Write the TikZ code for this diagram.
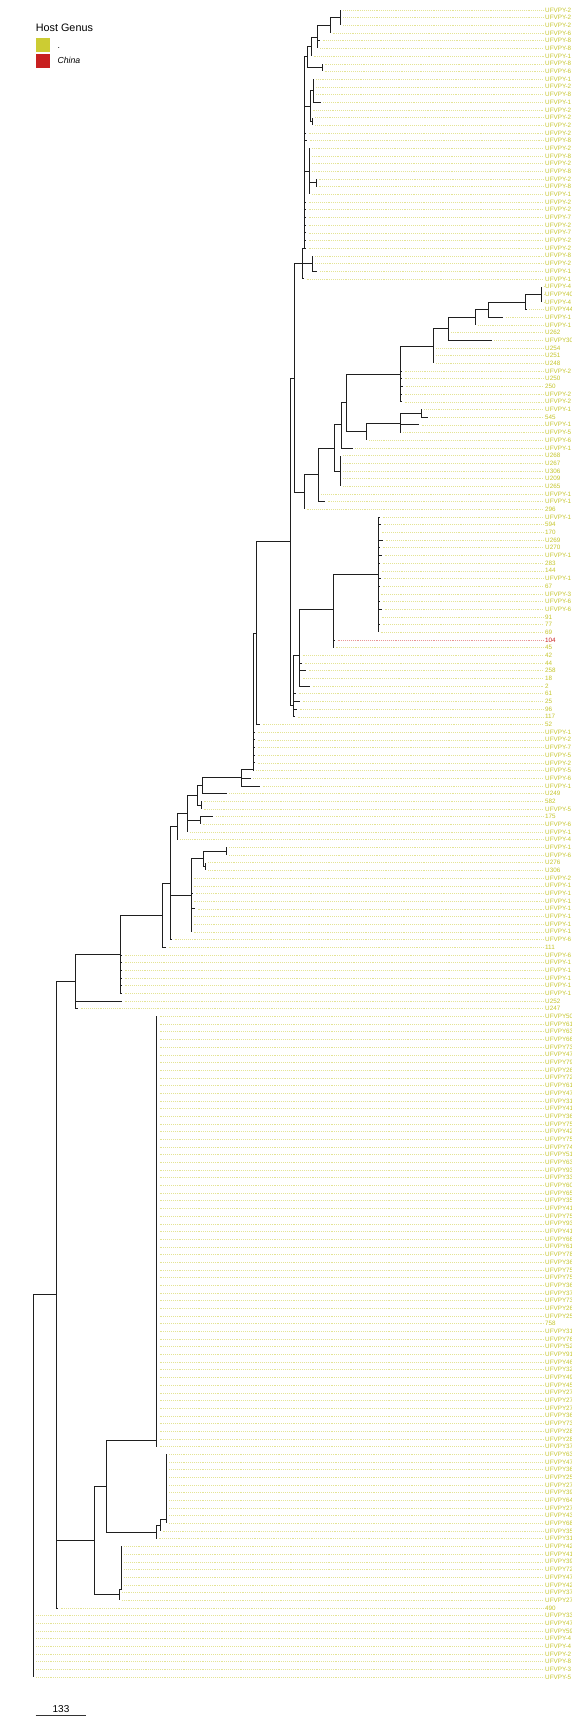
\documentclass[tikz,border=0pt]{standalone}
\usepackage{fontspec}
\setmainfont{Liberation Sans}
\newfontfamily\lblfont{Liberation Sans}
\definecolor{hy}{RGB}{204,204,51}
\definecolor{hyt}{RGB}{196,196,40}
\definecolor{hyl}{RGB}{228,228,150}
\definecolor{hr}{RGB}{200,32,32}
\definecolor{hrl}{RGB}{232,150,150}
\pgfmathdeclarefunction{ly}{1}{\pgfmathparse{10+7.682*#1}}
\newcommand\tnode[3]{\coordinate (#1) at (#2,{ly(#3)});}
\newcommand\tclade[2]{\foreach \ch in {#2}{\draw[br] (#1) |- (\ch);}}
\newcommand\tcladr[3]{\foreach \ch in {#2,...,#3}{\draw[br] (#1) |- (T\ch);}}
\begin{document}
\begin{tikzpicture}[x=1pt,y=-1pt,
  br/.style={line width=0.75pt, black!88},
  lead/.style={hyl, line width=0.5pt, dash pattern=on 0.7pt off 1.2pt},
  lbl/.style={anchor=west, inner sep=0pt, text=hyt, font=\lblfont\fontsize{6.3}{7}\selectfont},
  lblc82/.style={text=hr},
  leadc82/.style={hrl}]
\useasboundingbox (0,0) rectangle (576,1728);
% ---------- leaves ----------
\begin{scope}
\clip (0,0) rectangle (571,1728);
\foreach \i/\t/\l in {
0/340.7/UFVPY-2, 1/340.7/UFVPY-2, 2/340.7/UFVPY-2, 3/330/UFVPY-6, 4/320/UFVPY-8,
5/317.3/UFVPY-8, 6/311/UFVPY-1, 7/322/UFVPY-8, 8/322/UFVPY-6, 9/313.3/UFVPY-1,
10/313.3/UFVPY-2, 11/313.3/UFVPY-8, 12/320.7/UFVPY-1, 13/310/UFVPY-2, 14/312.7/UFVPY-2,
15/312.7/UFVPY-2, 16/306/UFVPY-2, 17/307/UFVPY-8, 18/309.3/UFVPY-2, 19/309.3/UFVPY-8,
20/309.3/UFVPY-2, 21/309.3/UFVPY-8, 22/316/UFVPY-2, 23/316/UFVPY-8, 24/309.3/UFVPY-1,
25/306/UFVPY-2, 26/306/UFVPY-2, 27/306/UFVPY-7, 28/306/UFVPY-2, 29/306/UFVPY-7,
30/306/UFVPY-2, 31/306/UFVPY-2, 32/312.7/UFVPY-8, 33/312.7/UFVPY-2, 34/317.3/UFVPY-1,
35/304/UFVPY-1, 36/541.7/UFVPY-4, 37/541.7/UFVPY40, 38/541.7/UFVPY-4, 39/526.7/UFVPY44,
40/503.3/UFVPY-1, 41/475.7/UFVPY-1, 42/448.3/U262, 43/491.7/UFVPY30, 44/433.7/U254,
45/433.7/U251, 46/433.7/U248, 47/402/UFVPY-2, 48/402/U250, 49/403/250,
50/402/UFVPY-2, 51/402/UFVPY-2, 52/421.7/UFVPY-1, 53/427.7/545, 54/419/UFVPY-1,
55/400.3/UFVPY-5, 56/366.7/UFVPY-6, 57/352.7/UFVPY-1, 58/340.3/U268, 59/340.3/U267,
60/340.3/U306, 61/340.3/U209, 62/340.3/U265, 63/318.7/UFVPY-1, 64/325/UFVPY-1,
65/304/296, 66/380/UFVPY-1, 67/381/594, 68/379/170, 69/383/U269,
70/380/U270, 71/382/UFVPY-1, 72/380/283, 73/379/144, 74/381/UFVPY-1,
75/380/67, 76/378/UFVPY-3, 77/380/UFVPY-6, 78/382/UFVPY-6, 79/379/91,
80/380/77, 81/378/69, 82/335/104, 83/333/45, 84/300/42,
85/302/44, 86/306/258, 87/300/18, 88/310/2, 89/296/61,
90/300/25, 91/297/96, 92/295/117, 93/260/52, 94/255/UFVPY-1,
95/255/UFVPY-2, 96/255/UFVPY-7, 97/255/UFVPY-5, 98/255/UFVPY-2, 99/253.3/UFVPY-5,
100/250.7/UFVPY-6, 101/260/UFVPY-1, 102/226.7/U249, 103/201/582, 104/201/UFVPY-5,
105/213.3/175, 106/200/UFVPY-6, 107/187.7/UFVPY-1, 108/177.7/UFVPY-4, 109/226.7/UFVPY-1,
110/226.7/UFVPY-6, 111/205.3/U276, 112/205.3/U306, 113/191/UFVPY-2, 114/191/UFVPY-1,
115/193/UFVPY-1, 116/191/UFVPY-1, 117/195/UFVPY-1, 118/191/UFVPY-1, 119/191/UFVPY-1,
120/191/UFVPY-1, 121/172/UFVPY-6, 122/166/111, 123/122/UFVPY-6, 124/122/UFVPY-1,
125/122/UFVPY-1, 126/122/UFVPY-1, 127/122/UFVPY-1, 128/122/UFVPY-1, 129/122/U252,
130/78/U247, 131/157/UFVPY50, 132/157/UFVPY61, 133/157/UFVPY63, 134/157/UFVPY66,
135/157/UFVPY73, 136/157/UFVPY47, 137/157/UFVPY79, 138/157/UFVPY26, 139/157/UFVPY72,
140/157/UFVPY61, 141/157/UFVPY47, 142/157/UFVPY31, 143/157/UFVPY41, 144/157/UFVPY36,
145/157/UFVPY75, 146/157/UFVPY42, 147/157/UFVPY75, 148/157/UFVPY74, 149/157/UFVPY51,
150/157/UFVPY63, 151/157/UFVPY93, 152/157/UFVPY33, 153/157/UFVPY60, 154/157/UFVPY65,
155/157/UFVPY35, 156/157/UFVPY41, 157/157/UFVPY75, 158/157/UFVPY93, 159/157/UFVPY41,
160/157/UFVPY66, 161/157/UFVPY61, 162/157/UFVPY78, 163/157/UFVPY36, 164/157/UFVPY75,
165/157/UFVPY75, 166/157/UFVPY36, 167/157/UFVPY37, 168/157/UFVPY73, 169/157/UFVPY26,
170/157/UFVPY25, 171/157/758, 172/157/UFVPY31, 173/157/UFVPY76, 174/157/UFVPY52,
175/157/UFVPY91, 176/157/UFVPY46, 177/157/UFVPY32, 178/157/UFVPY49, 179/157/UFVPY45,
180/157/UFVPY27, 181/157/UFVPY27, 182/157/UFVPY27, 183/157/UFVPY36, 184/157/UFVPY73,
185/157/UFVPY28, 186/157/UFVPY28, 187/157/UFVPY37, 188/166.7/UFVPY63, 189/166.7/UFVPY47,
190/166.7/UFVPY36, 191/166.7/UFVPY25, 192/166.7/UFVPY27, 193/166.7/UFVPY39, 194/166.7/UFVPY64,
195/166.7/UFVPY27, 196/166.7/UFVPY43, 197/166.7/UFVPY68, 198/160/UFVPY35, 199/156/UFVPY31,
200/121.7/UFVPY42, 201/121.7/UFVPY41, 202/121.7/UFVPY39, 203/121.7/UFVPY72, 204/121.7/UFVPY47,
205/121.7/UFVPY42, 206/119.3/UFVPY37, 207/119.3/UFVPY27, 208/58/490, 209/33.7/UFVPY33,
210/33.7/UFVPY47, 211/33.7/UFVPY59, 212/33.7/UFVPY-4, 213/33.7/UFVPY-4, 214/33.7/UFVPY-2,
215/33.7/UFVPY-8, 216/33.7/UFVPY-3, 217/33.7/UFVPY-5}{
  \coordinate (T\i) at (\t,{ly(\i)});
  \node[lbl, lblc\i/.try] (L\i) at (545,{ly(\i)}) {\l};
  \draw[lead, leadc\i/.try] ([xshift=2.5]T\i) -- ([xshift=-1.5]L\i.west);
}
\end{scope}
% ---------- top clade ----------
\tnode{a1}{340.7}{1}   \tclade{a1}{T0,T1,T2}
\tnode{a2}{330}{2}     \tclade{a2}{a1,T3}
\tnode{a3}{317.3}{3.5} \tclade{a3}{a2,T4,T5}
\tnode{a4}{311}{4.75}  \tclade{a4}{a3,T6}
\tnode{a6}{322}{7.5}   \tclade{a6}{T7,T8}
\tnode{a5}{307.3}{6.1} \tclade{a5}{a4,a6}
\tnode{b1}{313.3}{10.5} \tclade{b1}{T9,T10,T11,T12}
\tnode{b2}{312.7}{14.5} \tclade{b2}{T14,T15}
\tnode{b3}{310}{12.5}  \tclade{b3}{b1,T13,b2}
\tnode{c2}{316}{22.5}  \tclade{c2}{T22,T23}
\tnode{c1}{309.3}{21}  \tclade{c1}{T18,T19,T20,T21,c2,T24}
\tnode{e1}{312.7}{33}  \tclade{e1}{T32,T33,T34}
\tnode{bb}{304}{31}    \tclade{bb}{a5,b3,T16,T17,c1,T25,T26,T27,T28,T29,T30,T31}
\tnode{tn}{302}{33}    \tclade{tn}{bb,e1,T35}
% ---------- second clade ----------
\tnode{nE}{541.7}{37}  \tclade{nE}{T36,T37,T38}
\tnode{nF}{525}{38}    \tclade{nF}{nE,T39}
\tnode{nG}{488.3}{39}  \tclade{nG}{nF,T40}
\tnode{nH}{475.7}{40}  \tclade{nH}{nG,T41}
\tnode{nI}{448.3}{41.5} \tclade{nI}{nH,T42,T43}
\tnode{nJ}{433.7}{43.75} \tclade{nJ}{nI,T44,T45,T46}
\tnode{nK}{400.3}{47.4} \tclade{nK}{nJ,T47,T48,T49,T50,T51}
\tnode{nO}{421.7}{52.5} \tclade{nO}{T52,T53}
\tnode{nN}{400.3}{53.75} \tclade{nN}{nO,T54,T55}
\tnode{nM}{366.7}{54.9} \tclade{nM}{nN,T56}
\tnode{nL}{346.3}{51.1} \tclade{nL}{nK,nM}
\tnode{nP}{341.3}{54}  \tclade{nP}{nL,T57}
\tnode{nR}{340.3}{60}  \tclade{nR}{T58,T59,T60,T61,T62}
\tnode{nQ}{334.3}{57}  \tclade{nQ}{nP,nR}
\tnode{nS}{318.7}{60.5} \tclade{nS}{nQ,T63,T64}
\tnode{nB}{304}{62.75} \tclade{nB}{nS,T65}
\tnode{nA}{294}{47.9}  \tclade{nA}{tn,nB}
% ---------- 104 clade ----------
\tnode{u1}{378}{73.5}  \tcladr{u1}{66}{81}
\tnode{u2}{333}{78}    \tclade{u2}{u1,T82,T83}
\tnode{u3}{299}{84}    \tclade{u3}{u2,T84,T85,T86,T87,T88}
\tnode{nV}{293}{90.5}  \tclade{nV}{u3,T89,T90,T91,T92}
\tnode{nC}{290.3}{69.2} \tclade{nC}{nA,nV}
\tnode{d2}{256}{81.1}  \tclade{d2}{nC,T93}
% ---------- ladder down-left ----------
\tnode{d1}{253.3}{98.9} \tclade{d1}{d2,T94,T95,T96,T97,T98,T99}
\tnode{d0}{241}{99.9}  \tclade{d0}{d1,T100,T101}
\tnode{f1}{202.7}{100.95} \tclade{f1}{d0,T102}
\tnode{f2b}{201}{103.5} \tclade{f2b}{T103,T104}
\tnode{f2}{197.7}{102.2} \tclade{f2}{f1,f2b}
\tnode{f3b}{200}{105.5} \tclade{f3b}{T105,T106}
\tnode{f3}{187.7}{104.6} \tclade{f3}{f2,f3b,T107}
\tnode{f4}{177.7}{106.3} \tclade{f4}{f3,T108}
\tnode{n226}{226.7}{109.5} \tclade{n226}{T109,T110}
\tnode{n205}{205.3}{111.5} \tclade{n205}{T111,T112}
\tnode{n203}{203.3}{110.5} \tclade{n203}{n226,n205}
\tnode{n191}{191}{115.25} \tclade{n191}{n203,T113,T114,T115,T116,T117,T118,T119,T120}
\tnode{n170}{170}{113.65} \tclade{n170}{f4,n191,T121}
\tnode{n162}{162.3}{117.8} \tclade{n162}{n170,T122}
\tnode{n122}{120}{122.9} \tclade{n122}{n162,T123,T124,T125,T126,T127,T128}
\tnode{u0}{75}{126.45}  \tclade{u0}{n122,T129,T130}
% ---------- lower clade ----------
\tnode{nZ}{156}{186.2} \tcladr{nZ}{131}{187}
\tnode{za}{166.7}{196.5} \tcladr{za}{188}{197}
\tnode{zb}{160}{197.3} \tclade{zb}{za,T198}
\tnode{zc}{156}{198.2} \tclade{zc}{zb,T199}
\tnode{nX}{106.7}{192.2} \tclade{nX}{nZ,zc}
\tnode{y1}{121.7}{205.6} \tcladr{y1}{200}{205}
\tnode{nY}{119.3}{206.3} \tclade{nY}{y1,T206,T207}
\tnode{nW}{94.7}{199.25} \tclade{nW}{nX,nY}
\tnode{m0}{56}{167.2}  \tclade{m0}{u0,nW,T208}
\tnode{rt}{33.7}{167.2} \tclade{rt}{m0}
\tcladr{rt}{209}{217}
% ---------- legend ----------
\node[anchor=base west, inner sep=0pt, font=\fontsize{10.8}{12}\selectfont] (lgt) at (35.7,31.7) {Host Genus};
\node[fill=hy, minimum size=14pt, inner sep=0pt] (sq1) at (43,45.5) {};
\node[fill=hr, minimum size=14pt, inner sep=0pt] (sq2) at (43,61.3) {};
\node[anchor=base west, inner sep=0pt, font=\fontsize{8.7}{10}\selectfont] (lg1) at (57.3,48.3) {.};
\node[anchor=base west, inner sep=0pt, font=\fontsize{8.7}{10}\selectfont\itshape] (lg2) at (57.3,64) {China};
% ---------- scale bar ----------
\coordinate (sb1) at (35.7,1715);
\coordinate (sb2) at (86,1715);
\draw[line width=0.8pt, black!80] (sb1) -- (sb2);
\node[anchor=base, inner sep=0pt, font=\fontsize{10}{12}\selectfont] (sbl) at (61,1712.5) {133};
\end{tikzpicture}
\end{document}
